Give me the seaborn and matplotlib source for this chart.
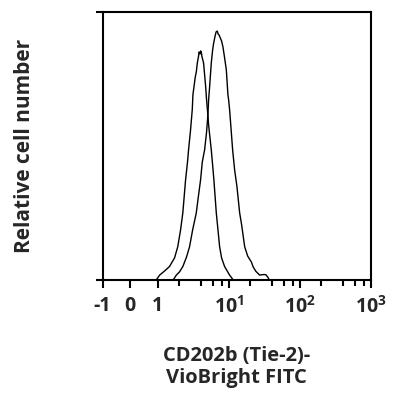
import matplotlib
matplotlib.use("Agg")
import matplotlib.pyplot as plt
import numpy as np
import pandas as pd
import seaborn as sns

# isotype / control curve (left, lower peak)
ctrl_x = [0.93, 1.06, 1.24, 1.46, 1.72, 1.91, 2.09, 2.25, 2.46, 2.62, 2.71, 2.89, 3.06, 3.12,
          3.37, 3.48, 3.60, 3.75, 3.81, 3.94, 4.00, 4.09, 4.20, 4.41, 4.71, 4.86, 5.07, 5.19,
          5.66, 5.91, 6.16, 6.66, 7.42, 7.91, 8.72, 10.26, 11.69]
ctrl_y = [0, 2.0, 3.5, 5.2, 8.4, 12.6, 18.8, 25.2, 37.5, 44.2, 48.7, 56.1, 63.9, 69.2,
          75.9, 77.7, 81.1, 83.7, 85.2, 84.5, 85.6, 85.2, 83.3, 81.1, 72.5, 67.3, 61.7, 58.0,
          48.7, 43.1, 37.5, 25.2, 12.6, 8.4, 5.2, 2.0, 0]

# CD202b stained curve (right, higher peak)
stain_x = [1.63, 1.82, 2.02, 2.25, 2.54, 2.80, 3.09, 3.48, 3.75, 4.00, 4.23, 4.56, 4.86, 5.07,
           5.19, 5.36, 5.66, 5.91, 6.11, 6.41, 6.62, 6.88, 7.07, 7.30, 7.59, 7.91, 8.26, 8.72,
           9.22, 9.71, 9.94, 10.26, 11.31, 12.07, 13.01, 14.20, 15.15, 16.71, 18.42, 20.77,
           21.88, 23.88, 27.20, 29.98, 33.04, 35.26, 37.62]
stain_y = [0, 2.0, 3.2, 5.2, 8.8, 12.6, 18.8, 25.2, 31.9, 37.5, 44.2, 48.7, 55.4, 61.7,
           67.3, 72.1, 81.1, 85.9, 88.5, 91.2, 92.7, 93.0, 91.9, 91.5, 90.4, 89.3, 87.1, 83.0,
           78.5, 69.2, 67.3, 63.6, 48.7, 41.2, 35.0, 25.2, 20.7, 12.6, 9.1, 6.9,
           5.2, 3.5, 2.0, 2.2, 2.2, 1.3, 0]

major_ticks = [-1, 0, 1, 10, 100, 1000]
major_labels = ["-1", "0", "1", r"$10^{1}$", r"$10^{2}$", r"$10^{3}$"]
minor_ticks = [2, 4, 6, 8, 20, 40, 60, 80, 200, 400, 600, 800]

K = 2.569  # linear units per decade above 1


def fwd(x):
    x = np.asarray(x, dtype=float)
    return np.where(x <= 1, x, 1 + K * np.log10(np.maximum(x, 1)))


def inv(u):
    u = np.asarray(u, dtype=float)
    return np.where(u <= 1, u, 10 ** ((np.maximum(u, 1) - 1) / K))


sns.set_style("white")
plt.rcParams["font.family"] = ["Open Sans", "DejaVu Sans"]
plt.rcParams["mathtext.fontset"] = "custom"
plt.rcParams["mathtext.rm"] = "Open Sans:bold"
plt.rcParams["mathtext.it"] = "Open Sans:bold"
plt.rcParams["mathtext.bf"] = "Open Sans:bold"

fig = plt.figure(figsize=(3.95, 4.01), dpi=100)
ax = fig.add_axes([0.2595, 0.3005, 0.6795, 0.6688])

df_ctrl = pd.DataFrame({"x": ctrl_x, "y": ctrl_y})
df_stain = pd.DataFrame({"x": stain_x, "y": stain_y})
sns.lineplot(data=df_ctrl, x="x", y="y", sort=False, estimator=None, color="black", lw=1.0, ax=ax)
sns.lineplot(data=df_stain, x="x", y="y", sort=False, estimator=None, color="black", lw=1.0, ax=ax)

ax.set_xscale("function", functions=(fwd, inv))
ax.set_xlim(-1, 1000)
ax.set_ylim(0, 100)

ax.set_xticks(major_ticks)
ax.set_xticklabels(major_labels, fontsize=14, fontweight="bold")
ax.set_xticks(minor_ticks, minor=True)
ax.set_yticks([0, 100])
ax.set_yticklabels([])

ax.tick_params(axis="x", which="major", direction="out", length=6, width=1.5, pad=5,
               bottom=True, color="black")
ax.tick_params(axis="x", which="minor", direction="out", length=4.5, width=1.5,
               bottom=True, color="black")
ax.tick_params(axis="y", which="major", direction="out", length=5, width=1.5,
               left=True, color="black")

for s in ax.spines.values():
    s.set_color("black")
    s.set_linewidth(1.5)

ax.set_xlabel("CD202b (Tie-2)-\nVioBright FITC", fontsize=14.5, fontweight="bold",
              linespacing=1.15, va="top")
ax.xaxis.set_label_coords(0.5, -0.245)
ax.set_ylabel("Relative cell number", fontsize=15, fontweight="bold")
ax.yaxis.set_label_coords(-0.25, 0.5)

fig.savefig("out.png", dpi=100)
